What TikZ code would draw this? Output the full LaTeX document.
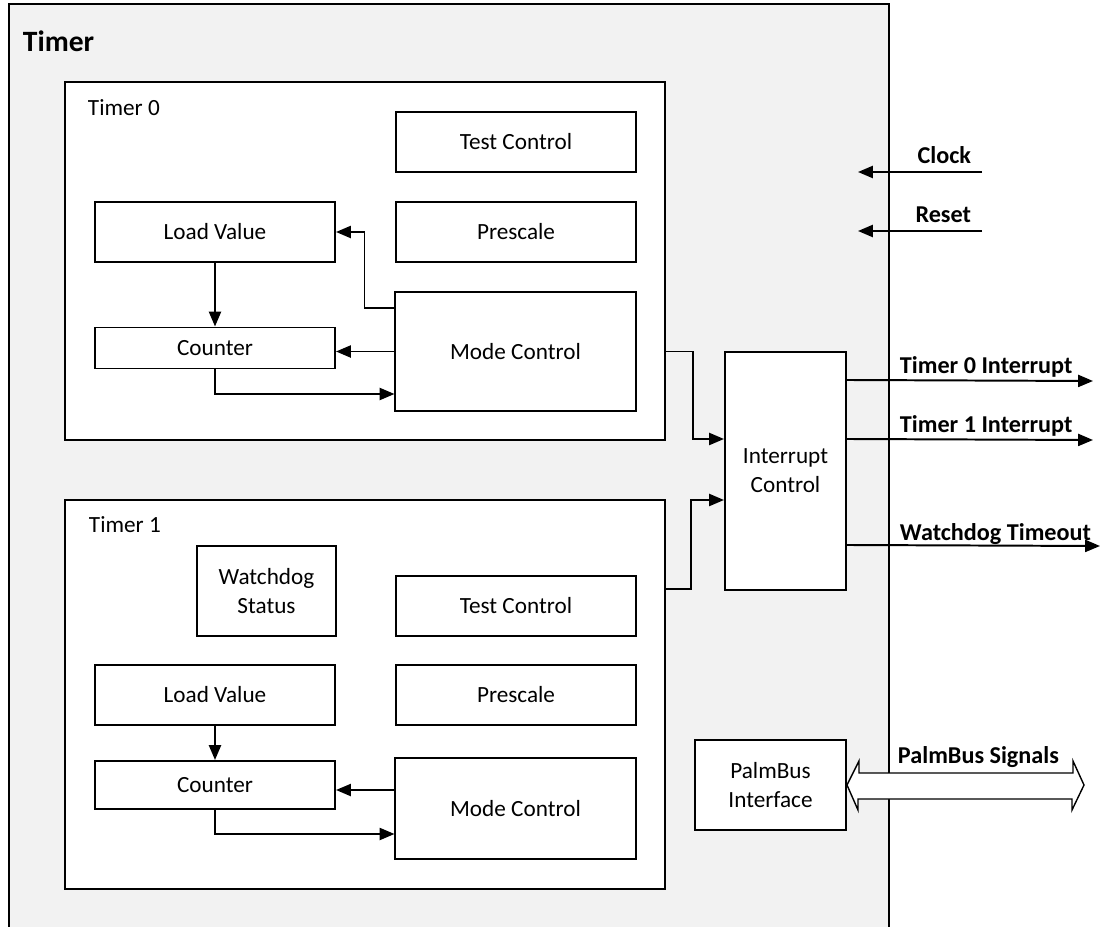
\documentclass[tikz,border=0pt]{standalone}
\usepackage{fontspec}
\setmainfont{Carlito}
\usepackage{tikz}
\usetikzlibrary{arrows.meta,calc}
\definecolor{timergray}{HTML}{F2F2F2}
\newcommand{\bodyfont}{\fontsize{16.5}{20.5}\selectfont}
\newcommand{\portfont}{\fontsize{17.2}{20.5}\selectfont\bfseries}

\begin{document}
\begin{tikzpicture}[x=0.025cm, y=-0.025cm, line width=1.4pt,
  block/.style={draw, fill=white, inner sep=0pt, align=center, font=\bodyfont},
  txt/.style={inner sep=0pt, anchor=base west, font=\bodyfont},
  sig/.style={-{Triangle[length=0.37cm,width=0.3cm]}},
  port/.style={inner sep=0pt, font=\portfont}]
\useasboundingbox (0,0) rectangle (1101,927);
% timer block
\fill[timergray] (9,4) rectangle (889,927);
\draw[line width=1.6pt] (9,927) -- (9,4) -- (889,4) -- (889,927);
\node[inner sep=0pt, anchor=base west, font=\fontsize{21}{25}\selectfont\bfseries] (timer) at (22,51) {Timer};

% timer 0
\node[block, minimum width=15cm, minimum height=8.95cm] (t0) at (365,261) {};
\node[txt] (t0lbl) at (87,115) {Timer 0};
\node[block, minimum width=6cm, minimum height=1.5cm] (t0test) at (516,142) {Test Control};
\node[block, minimum width=6cm, minimum height=1.5cm] (t0pre) at (516,232) {Prescale};
\node[block, minimum width=6cm, minimum height=1.5cm] (t0load) at (215,232) {Load Value};
\node[block, minimum width=6cm, minimum height=1.025cm] (t0cnt) at (215,348) {Counter};
\node[block, minimum width=6cm, minimum height=2.975cm] (t0mode) at (515.5,351.5) {Mode Control};

% timer 1
\node[block, minimum width=15cm, minimum height=9.725cm] (t1) at (365,694.5) {};
\node[txt] (t1lbl) at (88,532) {Timer 1};
\node[block, minimum width=3.475cm, minimum height=2.25cm] (t1wd) at (266.5,591) {Watchdog\\Status};
\node[block, minimum width=6cm, minimum height=1.5cm] (t1test) at (516,606) {Test Control};
\node[block, minimum width=6cm, minimum height=1.5cm] (t1pre) at (516,695) {Prescale};
\node[block, minimum width=6cm, minimum height=1.5cm] (t1load) at (215,695) {Load Value};
\node[block, minimum width=6cm, minimum height=1.2cm] (t1cnt) at (215,785) {Counter};
\node[block, minimum width=6cm, minimum height=2.525cm] (t1mode) at (515.5,808.5) {Mode Control};

% shared blocks
\node[block, minimum width=3.025cm, minimum height=5.95cm] (intc) at (785.5,471) {Interrupt\\Control};
\node[block, minimum width=3.775cm, minimum height=2.25cm] (pb) at (770.5,785) {PalmBus\\Interface};

% free ends
\coordinate (clkin) at (982,172);
\coordinate (clkout) at (858,172);
\coordinate (rstin) at (982,231);
\coordinate (rstout) at (858,231);
\coordinate (irq0) at (1093,381);
\coordinate (irq1) at (1093,440);
\coordinate (wdt) at (1100,546);
\coordinate (pbend) at (1084,785);
\coordinate (t1m2c) at ($(t1mode.north west)+(0,33)$);

% timer 0 links
\draw[sig] (t0load) -- (t0cnt);
\draw[sig] ($(t0mode.north west)+(0,17)$) -- ++(-30,0) |- (t0load.east);
\draw[sig] (t0mode.west) -- (t0mode.west -| t0cnt.east);
\draw[sig] (t0cnt.south) |- ($(t0mode.south west)+(0,-18)$);
\draw[sig] (t0mode.east -| t0.east) -- ++(27,0) |- ($(intc.north west)+(0,88)$);

% timer 1 links
\draw[sig] (t1load) -- (t1cnt);
\draw[sig] (t1m2c) -- (t1m2c -| t1cnt.east);
\draw[sig] (t1cnt.south) |- ($(t1mode.south west)+(0,-26)$);
\draw[sig] ($(t1.north east)+(0,90)$) -- ++(25,0) |- ($(intc.north west)+(0,149)$);

% inputs
\draw[sig] (clkin) -- (clkout);
\draw[sig] (rstin) -- (rstout);
\node[port, anchor=base east] (clklbl) at (972,163) {Clock};
\node[port, anchor=base east] (rstlbl) at (972,222) {Reset};

% outputs
\draw[sig] ($(intc.north east)+(0,29)$) -- (irq0);
\draw[sig] ($(intc.north east)+(0,88)$) -- (irq1);
\draw[sig] ($(intc.north east)+(0,194)$) -- (wdt);
\node[port, anchor=base west] (irq0lbl) at (899,373) {Timer 0 Interrupt};
\node[port, anchor=base west] (irq1lbl) at (899,432) {Timer 1 Interrupt};
\node[port, anchor=base west] (wdtlbl) at (899,540) {Watchdog Timeout};

% bus
\draw[line width=1pt, fill=white] (pb.east) -- ++(12,-24) -- ++(0,12) -- ++(214,0) -- ++(0,-12)
  -- (pbend) -- ++(-12,25) -- ++(0,-11) -- ++(-214,0) -- ++(0,11) -- cycle;
\node[port, anchor=base west] (pblbl) at (897,763) {PalmBus Signals};
\end{tikzpicture}
\end{document}
